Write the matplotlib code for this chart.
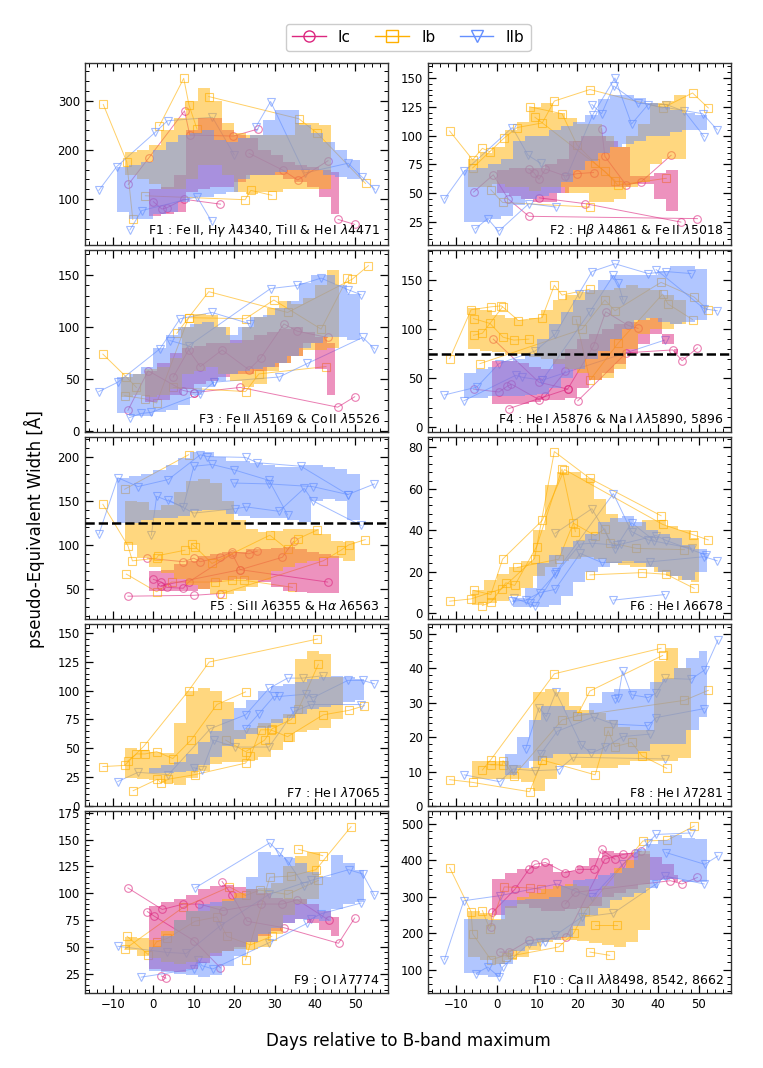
import matplotlib
matplotlib.use("Agg")
import matplotlib.pyplot as plt
from matplotlib.ticker import MultipleLocator, AutoMinorLocator
from matplotlib.lines import Line2D

# SN types, colours and markers
sn_types = ["Ic", "Ib", "IIb"]
colors = {"Ic": "#DC267F", "Ib": "#FFB000", "IIb": "#648FFF"}
markers = {"Ic": "o", "Ib": "s", "IIb": "v"}

# ---------------- F1 ----------------
f1_ic_day = [-1, 2, 5, 8, 11, 14, 17, 20, 23, 26, 29, 32, 35, 38, 41, 44, 46]
f1_ic_lo = [65, 70, 75, 115, 120, 125, 125, 135, 150, 150, 150, 140, 135, 125, 105, 70, 45]
f1_ic_hi = [120, 125, 150, 240, 265, 265, 240, 230, 225, 200, 190, 175, 170, 165, 160, 155, 150]
f1_ib_day = [-7, -4, -1, 2, 5, 8, 11, 14, 17, 20, 23, 26, 29, 32, 35, 38, 41, 44]
f1_ib_lo = [150, 140, 130, 120, 120, 140, 170, 170, 150, 115, 110, 115, 115, 120, 120, 120, 120, 125]
f1_ib_hi = [195, 200, 210, 240, 265, 300, 325, 300, 255, 235, 230, 230, 230, 230, 255, 255, 250, 170]
f1_iib_day = [-9, -6, -3, 0, 3, 6, 9, 12, 15, 18, 21, 24, 27, 30, 33, 36, 39, 42, 45, 48, 51]
f1_iib_lo = [75, 60, 60, 70, 75, 95, 105, 105, 110, 115, 140, 150, 150, 155, 160, 160, 160, 150, 145, 140, 130]
f1_iib_hi = [165, 170, 175, 200, 215, 230, 235, 240, 220, 215, 225, 230, 260, 280, 280, 250, 235, 215, 200, 180, 160]
f1_ic_tracks = [
    [(-6.2, 130), (-1.2, 183), (7.7, 279), (9, 230), (19.8, 228), (25.8, 242)],
    [(0, 95), (2.1, 80), (3.4, 83), (7.5, 100), (16.6, 90)],
    [(23.7, 193), (32, 159), (35.7, 139), (43.2, 178)],
    [(45.7, 59), (49.8, 49)],
]
f1_ib_tracks = [
    [(-12.4, 292), (-6.6, 176), (-5.1, 59)],
    [(1.5, 249), (7.5, 345), (8.8, 291), (10.8, 242)],
    [(13.7, 308), (36, 263), (40.5, 234), (52.5, 132)],
    [(-2, 107), (22.7, 99), (24.1, 118), (29.3, 108)],
]
f1_iib_tracks = [
    [(-13.5, 118), (-9.1, 166), (0.5, 236), (3.5, 259), (14.6, 266), (20, 190)],
    [(-5.8, 38), (-2.9, 77), (10.8, 105), (14.4, 55)],
    [(25.4, 247), (29, 298), (37.4, 153), (48.2, 173), (51.5, 146), (54.8, 120)],
]

# ---------------- F2 ----------------
f2_ic_day = [0, 3, 6, 9, 12, 15, 18, 21, 24, 27, 30, 33, 36, 39, 42, 45]
f2_ic_lo = [50, 48, 45, 42, 42, 50, 55, 55, 55, 55, 55, 58, 58, 45, 35, 25]
f2_ic_hi = [70, 72, 72, 72, 75, 80, 95, 100, 100, 95, 90, 65, 65, 68, 70, 71]
f2_ib_day = [-7, -4, -1, 2, 5, 8, 11, 14, 17, 20, 23, 26, 29, 32, 35, 38, 41, 44, 47]
f2_ib_lo = [55, 55, 58, 55, 55, 52, 55, 55, 50, 50, 42, 42, 45, 55, 60, 75, 80, 80, 80]
f2_ib_hi = [80, 85, 90, 105, 112, 125, 128, 120, 115, 110, 110, 100, 90, 100, 110, 128, 130, 135, 125]
f2_iib_day = [-8, -5, -2, 1, 4, 7, 10, 13, 16, 19, 22, 25, 28, 31, 34, 37, 40, 43, 46, 49, 52]
f2_iib_lo = [25, 25, 28, 30, 40, 45, 48, 50, 60, 70, 78, 85, 90, 93, 95, 100, 100, 103, 105, 105, 108]
f2_iib_hi = [70, 72, 75, 80, 95, 100, 100, 105, 108, 112, 118, 132, 135, 135, 133, 128, 125, 122, 120, 118, 115]
f2_ic_tracks = [
    [(-5.7, 51), (-0.8, 66), (2.9, 45), (8, 30), (49.7, 28)],
    [(8, 71), (9.2, 68), (10.5, 62), (12.1, 71), (17, 65), (19.9, 67), (24, 68)],
    [(26, 106), (26.8, 82), (32.1, 57), (35.8, 60), (43.2, 83)],
    [(10.6, 46), (21.9, 41), (45.6, 25)],
]
f2_ib_tracks = [
    [(-11.6, 104), (-5.9, 79), (-3.5, 89), (-1.7, 86)],
    [(-5.9, 72), (1.9, 98), (5.1, 107), (11.3, 111), (14.3, 130), (23.1, 140), (41.1, 124), (48.5, 137), (52.4, 124)],
    [(8.2, 125), (16.2, 119), (19.9, 92), (24.4, 76), (29.3, 61)],
    [(-1.4, 53), (1.5, 42), (23.1, 38)],
    [(9.5, 116), (26.8, 69), (30, 57), (42, 63)],
]
f2_iib_tracks = [
    [(-12.9, 45), (-8, 69), (3.9, 107), (7.8, 83), (10.9, 76)],
    [(-5.3, 19), (-2.2, 28), (0.5, 17), (8, 41), (14.7, 38)],
    [(17.3, 64), (23.8, 118), (29.3, 150), (33.4, 110), (37.5, 127), (51, 119), (54.6, 105)],
    [(23.6, 127), (26, 119), (29, 143), (35, 128), (42, 127), (46.5, 121), (51.4, 99)],
]

# ---------------- F3 ----------------
f3_ic_day = [-2, 1, 4, 7, 10, 13, 16, 19, 22, 25, 28, 31, 34, 37, 40, 43, 45]
f3_ic_lo = [28, 30, 35, 40, 45, 48, 52, 55, 55, 58, 62, 65, 72, 85, 60, 35, 23]
f3_ic_hi = [58, 65, 75, 80, 82, 85, 85, 88, 88, 92, 95, 98, 100, 95, 90, 85, 78]
f3_ib_day = [-8, -5, -2, 1, 4, 7, 10, 13, 16, 19, 22, 25, 28, 31, 34, 37, 40, 43, 46]
f3_ib_lo = [33, 35, 33, 35, 40, 55, 58, 62, 55, 48, 42, 45, 58, 65, 72, 78, 78, 80, 80]
f3_ib_hi = [52, 55, 60, 62, 70, 100, 113, 112, 100, 85, 100, 110, 118, 125, 122, 128, 140, 155, 155]
f3_iib_day = [-9, -6, -3, 0, 3, 6, 9, 12, 15, 18, 21, 24, 27, 30, 33, 36, 39, 42, 45, 48, 51]
f3_iib_lo = [17, 15, 15, 18, 20, 25, 35, 42, 48, 55, 58, 60, 62, 65, 72, 80, 85, 90, 90, 88, 85]
f3_iib_hi = [52, 55, 62, 80, 92, 100, 103, 105, 100, 92, 100, 110, 112, 118, 125, 142, 150, 150, 140, 132, 128]
f3_ic_tracks = [
    [(-6.3, 20), (-1.3, 58), (7.4, 39), (10, 37)],
    [(4.9, 52), (8.7, 78), (11.6, 62), (17, 78), (23.6, 59), (26.5, 70), (32.3, 103), (35.6, 96), (43.1, 90)],
    [(10, 37), (21.5, 42), (45.6, 23), (49.8, 33)],
]
f3_ib_tracks = [
    [(-12.5, 74), (-6.7, 52), (-4.2, 42)],
    [(-7.1, 34), (-2.1, 31), (0.8, 27), (8.7, 109), (13.7, 134), (33.2, 114), (49.2, 146), (53.2, 159)],
    [(5.8, 94), (8.7, 109), (22.8, 108), (29.8, 126), (41.5, 98), (48, 147)],
    [(4.9, 42), (22.8, 38), (26.1, 55), (42.7, 62)],
]
f3_iib_tracks = [
    [(-13.5, 38), (-8.8, 47), (1.6, 79), (6.6, 108), (14.5, 114), (24, 103)],
    [(-5.9, 13), (-3, 17), (-0.5, 18), (11.6, 36), (14.9, 47)],
    [(4.1, 87), (8.7, 82), (29, 137), (35.6, 140), (41.5, 147), (48.1, 136), (51.4, 131)],
    [(14.9, 47), (31.1, 52), (38.1, 65), (51.8, 90), (54.7, 79)],
]

# ---------------- F4 ----------------
f4_ic_day = [-1, 2, 5, 8, 11, 14, 17, 20, 23, 26, 29, 32, 35, 38, 41, 44, 45]
f4_ic_lo = [24, 24, 24, 26, 28, 28, 30, 40, 48, 55, 65, 75, 85, 95, 85, 75, 72]
f4_ic_hi = [68, 68, 66, 62, 60, 70, 80, 90, 95, 100, 105, 108, 110, 112, 95, 80, 78]
f4_ib_day = [-7, -4, -1, 2, 5, 8, 11, 14, 17, 20, 23, 26, 29, 32, 35, 38, 41, 44, 47]
f4_ib_lo = [80, 78, 77, 75, 75, 72, 70, 65, 60, 55, 48, 50, 60, 80, 95, 100, 100, 105, 105]
f4_ib_hi = [122, 120, 115, 112, 110, 112, 120, 130, 135, 138, 140, 140, 142, 145, 142, 140, 135, 130, 128]
f4_iib_day = [-8, -5, -2, 1, 4, 7, 10, 13, 16, 19, 22, 25, 28, 31, 34, 37, 40, 43, 46, 49, 52]
f4_iib_lo = [30, 30, 32, 32, 32, 33, 34, 40, 50, 60, 70, 78, 90, 100, 110, 112, 108, 105, 108, 110, 115]
f4_iib_hi = [55, 60, 62, 68, 70, 75, 90, 105, 118, 130, 140, 150, 155, 155, 155, 155, 160, 165, 165, 162, 155]
f4_ic_tracks = [
    [(-5.7, 39), (0.6, 36), (2.7, 42), (3.7, 44), (10.6, 28), (12.1, 32), (17, 57)],
    [(-0.8, 90), (10.5, 46), (17.6, 39), (24, 83), (27, 118), (32.6, 104), (35, 101)],
    [(20.1, 27), (32.1, 76), (43.6, 79), (45.9, 68), (49.7, 81)],
    [(3, 19), (17.6, 39)],
]
f4_ib_tracks = [
    [(-11.6, 70), (-6.3, 120), (-1.4, 123), (1.2, 124), (5.4, 109), (11.3, 112), (14.3, 145), (16.2, 135), (23.1, 141)],
    [(-5.7, 111), (-1.6, 106), (1.6, 92), (4.3, 89), (8, 90)],
    [(-5.7, 94), (-3.5, 96), (1.5, 123)],
    [(-4.1, 65), (21.1, 100), (26.8, 130), (29.3, 119), (40.7, 148), (48.9, 133), (52.2, 120)],
    [(19.7, 110), (23.1, 48), (30.1, 86), (41.1, 136), (42.4, 126), (48.5, 110)],
]
f4_iib_tracks = [
    [(-12.9, 33), (-4.9, 41), (0.6, 65), (9.6, 78), (14.5, 95), (20.3, 136), (23.6, 159), (29.3, 167), (37.5, 157), (42, 159), (48.1, 157)],
    [(-8.1, 27), (4.7, 53), (6.4, 51), (11.3, 48), (23.1, 118), (28.9, 155), (30.1, 147), (31.3, 130)],
    [(39.5, 161), (51.4, 121), (54.6, 119)],
    [(11.3, 48), (41.6, 89)],
]

# ---------------- F5 ----------------
f5_ic_day = [-1, 2, 5, 8, 11, 14, 17, 20, 23, 26, 29, 32, 35, 38, 41, 44, 46]
f5_ic_lo = [48, 48, 48, 48, 50, 58, 60, 62, 60, 58, 52, 48, 47, 46, 46, 46, 46]
f5_ic_hi = [70, 72, 78, 82, 88, 90, 92, 92, 95, 95, 97, 98, 95, 92, 90, 88, 88]
f5_ib_day = [-7, -4, -1, 2, 5, 8, 11, 14, 17, 20, 23, 26, 29, 32, 35, 38, 41, 44, 47, 50]
f5_ib_lo = [100, 85, 75, 68, 62, 55, 50, 45, 45, 48, 52, 60, 70, 75, 80, 82, 85, 85, 82, 80]
f5_ib_hi = [150, 148, 140, 145, 160, 172, 175, 170, 150, 128, 118, 115, 116, 118, 118, 118, 112, 105, 103, 100]
f5_iib_day = [-9, -6, -3, 0, 3, 6, 9, 12, 15, 18, 21, 24, 27, 30, 33, 36, 39, 42, 45, 48, 51]
f5_iib_lo = [125, 125, 128, 130, 130, 133, 138, 140, 140, 135, 133, 130, 130, 130, 128, 126, 150, 152, 150, 128, 128]
f5_iib_hi = [176, 178, 180, 185, 190, 198, 205, 205, 200, 195, 195, 193, 190, 188, 188, 190, 190, 188, 186, 180, 172]
f5_ic_tracks = [
    [(-6.3, 42), (10, 43), (16.5, 45)],
    [(-1.5, 85), (7.4, 81), (10, 85), (11.6, 81), (16.5, 86), (19.5, 92), (23.6, 90), (25.7, 93)],
    [(0, 61), (2, 58), (3.3, 52), (7.4, 51), (8.7, 58), (19.5, 90), (21.5, 72), (31.9, 86), (34.7, 104)],
    [(2, 54), (21.5, 72), (43.1, 58)],
]
f5_ib_tracks = [
    [(-12.5, 146), (-6.3, 99), (-5.2, 82), (0.8, 85), (1.2, 88), (7.8, 94)],
    [(-7.1, 163), (8.7, 202)],
    [(-6.7, 67), (0.8, 47), (4.5, 58), (15.3, 58), (19.5, 60), (22.4, 60), (34.4, 52)],
    [(9.5, 101), (10.3, 98), (14.5, 79), (28.8, 111), (33.2, 95), (35.8, 107), (40.6, 117)],
    [(17, 45), (42, 82), (46.4, 94), (48.3, 100), (52.4, 106)],
]
f5_iib_tracks = [
    [(-13.5, 112), (-8.8, 176), (-3.8, 166), (3.7, 174), (11.6, 202), (13.3, 200), (22.8, 199), (25.7, 193), (36.5, 189), (48.1, 157), (54.7, 169)],
    [(-0.5, 111), (0.8, 155), (7.4, 143), (10, 189), (14.5, 191), (19.9, 185), (28.6, 173), (33.2, 134)],
    [(3.7, 151), (10, 136), (20.3, 141), (23, 143), (31.1, 138), (37.3, 164), (39.4, 150), (51.4, 122)],
    [(19.9, 170), (28.6, 169), (39.4, 166), (48.1, 157)],
]

# ---------------- F6 ----------------
f6_ib_day = [-6, -3, 0, 3, 6, 9, 12, 15, 18, 21, 24, 27, 30, 33, 36, 39, 42, 45, 48, 50]
f6_ib_lo = [4, 5, 6, 8, 12, 18, 22, 25, 26, 27, 26, 24, 23, 22, 22, 20, 18, 16, 15, 20]
f6_ib_hi = [11, 16, 19, 22, 25, 40, 62, 68, 68, 65, 55, 48, 44, 42, 45, 45, 42, 40, 36, 39]
f6_iib_day = [4, 7, 10, 13, 16, 19, 22, 25, 28, 31, 34, 37, 40, 43, 46, 49, 52]
f6_iib_lo = [3, 3, 3, 4, 8, 15, 20, 22, 24, 25, 24, 22, 20, 18, 16, 20, 25]
f6_iib_hi = [7, 12, 24, 28, 32, 35, 38, 44, 46, 47, 44, 40, 38, 36, 33, 31, 29]
f6_ib_tracks = [
    [(-11.6, 5.7), (-6.3, 6.8), (1.3, 11.7), (9.4, 26.3), (14.3, 78), (23.1, 65), (40.7, 47)],
    [(-5.7, 10.9), (-1.4, 8.9), (1.5, 26), (11.3, 44.7), (16.8, 69.3), (41.1, 42.8), (48.5, 37.9), (52.4, 35.3)],
    [(-3.5, 3.6), (-1.4, 5.2), (2.3, 14.6), (4.5, 13.3), (9.9, 32), (16.2, 69.6), (19.5, 39.3)],
    [(5.1, 22), (15.4, 26), (19, 43.4), (24.4, 37.4), (26.8, 40.7), (28, 34), (34.6, 31.2), (46.5, 30.6)],
    [(23.1, 18.4), (36, 19.5), (42, 18.7), (48.9, 11.9)],
]
f6_iib_tracks = [
    [(4.3, 7.3), (9.6, 3.3), (14.7, 19.8), (28.9, 57.7), (33.4, 39.3), (37.5, 35.3), (48.3, 31.2)],
    [(3.9, 5.7), (7.2, 6.2), (10.7, 9.8), (14.5, 11.4), (20.7, 28.8), (26, 24.4), (37.9, 24.7), (51.4, 27.2), (54.6, 25.2)],
    [(8.2, 4.9), (14.5, 18.7), (20.7, 33.3), (23.6, 33.7), (29.7, 32.8), (30.9, 33.3), (39.5, 37.4), (42, 35), (51.8, 28)],
    [(14.5, 38.5), (23.6, 50.4), (29.3, 30.9), (33.4, 43.6), (39, 35)],
    [(28.9, 6.2), (41.6, 8.9)],
]

# ---------------- F7 ----------------
f7_ib_day = [-7, -4, -1, 2, 5, 8, 11, 14, 17, 20, 23, 26, 29, 32, 35, 38, 41, 44, 47]
f7_ib_lo = [24, 23, 22, 20, 18, 24, 30, 36, 38, 38, 40, 42, 48, 55, 64, 66, 68, 75, 80]
f7_ib_hi = [50, 48, 47, 46, 72, 100, 102, 100, 90, 66, 68, 72, 75, 80, 128, 135, 132, 112, 90]
f7_iib_day = [-1, 2, 5, 8, 11, 14, 17, 20, 23, 26, 29, 32, 35, 38, 41, 44, 47, 50, 52]
f7_iib_lo = [28, 28, 29, 30, 35, 42, 52, 58, 62, 68, 72, 76, 80, 84, 86, 88, 90, 92, 93]
f7_iib_hi = [33, 35, 38, 45, 55, 65, 75, 85, 92, 100, 104, 106, 108, 110, 112, 113, 112, 110, 110]
f7_ib_tracks = [
    [(-12.5, 34), (-7.1, 35), (-2.3, 52), (8.7, 100), (13.8, 125), (40.6, 145)],
    [(-6.3, 39), (-4.2, 45), (-2.1, 45), (0.8, 47), (4.8, 41), (9.3, 57), (15.7, 88), (22.8, 99)],
    [(-5, 13), (1, 23), (1.8, 20), (3.7, 23), (10.3, 27), (22.8, 37), (24, 43), (26.5, 66), (29, 66), (33.2, 60), (42, 79), (48.5, 83), (52.2, 87)],
    [(17.9, 57), (22.8, 47), (27.5, 57), (29.4, 67), (34.1, 75), (35.9, 84), (40.8, 123)],
]
f7_iib_tracks = [
    [(-8.8, 21), (-3.8, 29), (3.7, 27), (14.1, 67), (22.8, 79), (28.6, 102), (33.2, 111), (36.9, 111), (41.9, 113)],
    [(10, 33), (12.1, 31), (14.9, 57), (20.3, 51), (28.6, 51), (34.8, 82), (39, 88), (51.4, 88)],
    [(22.8, 67), (26.1, 80), (29.8, 95), (31.1, 95), (37.7, 97), (39.5, 94), (48.1, 109), (51.8, 109), (54.7, 106)],
]

# ---------------- F8 ----------------
f8_ib_day = [-6, -3, 0, 3, 6, 9, 12, 15, 18, 21, 24, 27, 30, 33, 36, 39, 42, 45, 48]
f8_ib_lo = [8, 8, 8, 8, 7, 4.5, 8, 12, 12, 11, 11, 11, 12, 13, 13, 13, 13, 14, 20]
f8_ib_hi = [13, 13, 13, 12, 11, 33, 34, 33, 29, 28, 27, 25, 23, 22, 22, 42, 46, 40, 32]
f8_iib_day = [2, 5, 8, 11, 14, 17, 20, 23, 26, 29, 32, 35, 38, 41, 44, 47, 50, 52]
f8_iib_lo = [9, 11, 13, 14, 15, 15, 15, 15, 15, 15, 15, 16, 18, 18, 18, 22, 26, 28]
f8_iib_hi = [15, 20, 25, 29, 29, 28, 27, 30, 33, 34, 34, 34, 36, 37, 40, 43, 45, 42]
f8_ib_tracks = [
    [(-11.6, 7.7), (-5.9, 6.9), (8.2, 4.2), (11.3, 13.4)],
    [(-3.5, 10.5), (-1.4, 13.5), (14.3, 38.4), (40.7, 45.8)],
    [(-1.4, 12), (1.5, 12), (1.6, 13.2), (4.3, 8.9), (16.2, 25), (19.9, 26.2), (23.1, 33.4), (41.1, 43.7)],
    [(11.3, 13.4), (24.4, 9.1), (27.6, 21.9), (29.3, 17.3), (33.4, 18.5), (36, 14.6), (42.1, 11)],
    [(19.9, 26.2), (46.5, 30.7), (52.4, 33.6)],
]
f8_iib_tracks = [
    [(-8, 9.1), (0.8, 7.1), (4.1, 10.8), (9.6, 10.3), (15.4, 10.6), (19, 14.2), (41.6, 13.7)],
    [(7.2, 16.6), (10.5, 28.6), (12.3, 26), (14.7, 33.1), (21, 17.7), (23.4, 15.4), (26.8, 17.1), (31.3, 20.2), (37.9, 20.9)],
    [(10.9, 15.1), (15, 21.7), (24, 25.9), (28.9, 23.8), (37.5, 23.3), (39.5, 25.7), (51.4, 28.3)],
    [(29.3, 31.2), (30.1, 31.5), (31.2, 39.2), (33.4, 32.3), (37.5, 31.5), (39.5, 32.8), (41.8, 37.1), (48.1, 36.8), (51.5, 39.5), (54.8, 48.2)],
]

# ---------------- F9 ----------------
f9_ic_day = [-1, 2, 5, 8, 11, 14, 17, 20, 23, 26, 29, 32, 35, 38, 41, 44, 46]
f9_ic_lo = [30, 28, 27, 30, 35, 42, 46, 50, 55, 60, 65, 72, 76, 72, 66, 60, 58]
f9_ic_hi = [88, 92, 95, 98, 104, 107, 108, 106, 104, 100, 96, 95, 95, 90, 84, 78, 75]
f9_ib_day = [-7, -4, -1, 2, 5, 8, 11, 14, 17, 20, 23, 26, 29, 32, 35, 38, 41]
f9_ib_lo = [47, 42, 40, 36, 34, 36, 40, 44, 46, 48, 48, 50, 62, 80, 90, 95, 100]
f9_ib_hi = [59, 58, 57, 65, 75, 84, 84, 88, 95, 100, 104, 105, 110, 125, 135, 138, 133]
f9_iib_day = [-1, 2, 5, 8, 11, 14, 17, 20, 23, 26, 29, 32, 35, 38, 41, 44, 47, 50, 52]
f9_iib_lo = [28, 27, 25, 24, 22, 24, 32, 42, 55, 62, 68, 72, 76, 76, 74, 85, 90, 92, 93]
f9_iib_hi = [50, 60, 75, 84, 90, 92, 93, 96, 115, 138, 136, 133, 128, 120, 115, 136, 128, 122, 118]
f9_ic_tracks = [
    [(-6.3, 105), (2.2, 85), (7.4, 90), (11.4, 90), (17.2, 84), (26.5, 90), (31.9, 90), (35.6, 94), (43.4, 75)],
    [(-1.5, 83), (0.1, 79), (10, 56), (16.6, 30.6)],
    [(2, 23), (3.1, 21)],
    [(17, 111), (19.5, 98), (23.2, 74), (32.3, 68), (45.8, 53.5), (49.8, 77)],
]
f9_ib_tracks = [
    [(-6.5, 60), (-1.3, 43), (0.8, 55), (3.4, 58), (10.3, 74), (15.7, 78), (18.2, 60), (24, 52), (29.3, 60)],
    [(-7.1, 48), (7.4, 87), (18.8, 106), (22.8, 98), (26.3, 103), (33.2, 99), (40.8, 112)],
    [(22.8, 38), (28.8, 115), (34, 116), (40.2, 122), (48.9, 162)],
    [(35.9, 141), (41.9, 135)],
]
f9_iib_tracks = [
    [(-8.8, 50.7), (3.4, 45), (8.1, 44), (16.6, 70), (28.6, 99), (39, 112), (48.3, 122), (51.8, 118), (54.7, 98)],
    [(-3, 22), (10, 29.6), (11, 38), (12, 32.7), (14.7, 29.6), (28.6, 54), (38, 72), (39, 76), (41.5, 81), (51.4, 91)],
    [(10.3, 105), (28.8, 147), (31.1, 138), (33.2, 130), (37.3, 107)],
]

# ---------------- F10 ----------------
f10_ic_day = [-1, 2, 5, 8, 11, 14, 17, 20, 23, 26, 29, 32, 35, 38, 41, 44, 45]
f10_ic_lo = [250, 270, 280, 270, 262, 262, 265, 270, 275, 300, 310, 320, 335, 345, 350, 340, 335]
f10_ic_hi = [350, 365, 375, 385, 390, 368, 370, 385, 405, 425, 420, 420, 418, 410, 390, 360, 350]
f10_ib_day = [-7, -4, -1, 2, 5, 8, 11, 14, 17, 20, 23, 26, 29, 32, 35, 38]
f10_ib_lo = [135, 125, 115, 125, 135, 155, 175, 180, 180, 178, 172, 168, 162, 175, 210, 240]
f10_ib_hi = [262, 255, 240, 275, 300, 310, 320, 330, 335, 330, 300, 330, 380, 400, 425, 430]
f10_iib_day = [-8, -5, -2, 1, 4, 7, 10, 13, 16, 19, 22, 25, 28, 31, 34, 37, 40, 43, 46, 49, 52]
f10_iib_lo = [90, 85, 80, 115, 150, 165, 175, 180, 190, 220, 250, 270, 290, 300, 310, 325, 345, 350, 340, 340, 345]
f10_iib_hi = [240, 238, 235, 290, 290, 295, 295, 300, 330, 345, 350, 360, 365, 380, 430, 445, 455, 470, 460, 458, 455]
f10_ic_tracks = [
    [(-1.4, 218), (-1, 257), (4.6, 321), (8, 375), (9.5, 389), (12.1, 394), (17, 366), (20.3, 375), (24, 375), (26, 430), (29.3, 403)],
    [(0.8, 148), (3.1, 148), (8, 180), (17.2, 189), (26.8, 403), (31.3, 416), (34.2, 421), (35.8, 425)],
    [(17, 280), (19.5, 312), (43, 344), (45.9, 335), (49.7, 353)],
]
f10_ib_tracks = [
    [(-11.6, 380), (-6.3, 259), (-5.9, 198), (-1.4, 127), (3.9, 144)],
    [(-3.5, 262), (-1.7, 212), (1.9, 327), (8.4, 324), (10.9, 321)],
    [(2.3, 135), (15.4, 162), (19.1, 200), (22, 262), (36.2, 453), (42.2, 455), (48.9, 494)],
    [(23.1, 148), (28, 139)],
    [(24.4, 221), (29.7, 221)],
]
f10_iib_tracks = [
    [(-12.9, 127), (-8.1, 289), (0.9, 303), (15, 335), (23.6, 298), (31.2, 389), (37.5, 448), (39.5, 471), (48.1, 475)],
    [(-5.1, 89), (-2.2, 107), (0.6, 80), (1.5, 107), (8, 171), (10.7, 175), (12.1, 177), (14.5, 194), (21.1, 244), (28.9, 255), (39.5, 335), (41.7, 357), (51.4, 335)],
    [(42, 421), (51.5, 389), (54.8, 412)],
]

labels = [
    r"F1 : Fe$\,$II, H$\gamma$ $\lambda$4340, Ti$\,$II & He$\,$I $\lambda$4471",
    r"F2 : H$\beta$ $\lambda$4861 & Fe$\,$II $\lambda$5018",
    r"F3 : Fe$\,$II $\lambda$5169 & Co$\,$II $\lambda$5526",
    r"F4 : He$\,$I $\lambda$5876 & Na$\,$I $\lambda\lambda$5890, 5896",
    r"F5 : Si$\,$II $\lambda$6355 & H$\alpha$ $\lambda$6563",
    r"F6 : He$\,$I $\lambda$6678",
    r"F7 : He$\,$I $\lambda$7065",
    r"F8 : He$\,$I $\lambda$7281",
    r"F9 : O$\,$I $\lambda$7774",
    r"F10 : Ca$\,$II $\lambda\lambda$8498, 8542, 8662",
]

bands = [
    {"Ic": (f1_ic_day, f1_ic_lo, f1_ic_hi), "Ib": (f1_ib_day, f1_ib_lo, f1_ib_hi), "IIb": (f1_iib_day, f1_iib_lo, f1_iib_hi)},
    {"Ic": (f2_ic_day, f2_ic_lo, f2_ic_hi), "Ib": (f2_ib_day, f2_ib_lo, f2_ib_hi), "IIb": (f2_iib_day, f2_iib_lo, f2_iib_hi)},
    {"Ic": (f3_ic_day, f3_ic_lo, f3_ic_hi), "Ib": (f3_ib_day, f3_ib_lo, f3_ib_hi), "IIb": (f3_iib_day, f3_iib_lo, f3_iib_hi)},
    {"Ic": (f4_ic_day, f4_ic_lo, f4_ic_hi), "Ib": (f4_ib_day, f4_ib_lo, f4_ib_hi), "IIb": (f4_iib_day, f4_iib_lo, f4_iib_hi)},
    {"Ic": (f5_ic_day, f5_ic_lo, f5_ic_hi), "Ib": (f5_ib_day, f5_ib_lo, f5_ib_hi), "IIb": (f5_iib_day, f5_iib_lo, f5_iib_hi)},
    {"Ib": (f6_ib_day, f6_ib_lo, f6_ib_hi), "IIb": (f6_iib_day, f6_iib_lo, f6_iib_hi)},
    {"Ib": (f7_ib_day, f7_ib_lo, f7_ib_hi), "IIb": (f7_iib_day, f7_iib_lo, f7_iib_hi)},
    {"Ib": (f8_ib_day, f8_ib_lo, f8_ib_hi), "IIb": (f8_iib_day, f8_iib_lo, f8_iib_hi)},
    {"Ic": (f9_ic_day, f9_ic_lo, f9_ic_hi), "Ib": (f9_ib_day, f9_ib_lo, f9_ib_hi), "IIb": (f9_iib_day, f9_iib_lo, f9_iib_hi)},
    {"Ic": (f10_ic_day, f10_ic_lo, f10_ic_hi), "Ib": (f10_ib_day, f10_ib_lo, f10_ib_hi), "IIb": (f10_iib_day, f10_iib_lo, f10_iib_hi)},
]
tracks = [
    {"Ic": f1_ic_tracks, "Ib": f1_ib_tracks, "IIb": f1_iib_tracks},
    {"Ic": f2_ic_tracks, "Ib": f2_ib_tracks, "IIb": f2_iib_tracks},
    {"Ic": f3_ic_tracks, "Ib": f3_ib_tracks, "IIb": f3_iib_tracks},
    {"Ic": f4_ic_tracks, "Ib": f4_ib_tracks, "IIb": f4_iib_tracks},
    {"Ic": f5_ic_tracks, "Ib": f5_ib_tracks, "IIb": f5_iib_tracks},
    {"Ib": f6_ib_tracks, "IIb": f6_iib_tracks},
    {"Ib": f7_ib_tracks, "IIb": f7_iib_tracks},
    {"Ib": f8_ib_tracks, "IIb": f8_iib_tracks},
    {"Ic": f9_ic_tracks, "Ib": f9_ib_tracks, "IIb": f9_iib_tracks},
    {"Ic": f10_ic_tracks, "Ib": f10_ib_tracks, "IIb": f10_iib_tracks},
]
# dashed reference levels (F4, F5)
ref_levels = {3: 75, 4: 125}

# axis settings per panel
ylims = [(7, 376), (5, 163), (-1, 174), (-5, 181), (16, 222),
         (-3, 85), (-0.5, 158), (0, 52.8), (7, 176.5), (35, 535)]
ysteps = [100, 25, 50, 50, 50, 20, 25, 10, 25, 100]

fig, axes = plt.subplots(5, 2, figsize=(7.63, 10.68), dpi=100, sharex=True)
fig.subplots_adjust(left=0.111, right=0.958, top=0.941, bottom=0.070,
                    hspace=0.027, wspace=0.132)

for i, ax in enumerate(axes.flat):
    # individual SNe
    for t in sn_types:
        for tr in tracks[i].get(t, []):
            d = [p[0] for p in tr]
            v = [p[1] for p in tr]
            ax.plot(d, v, color=colors[t], lw=0.7, alpha=0.6, marker=markers[t],
                    mfc="none", ms=5.5, mew=0.8, zorder=1)
    # mean +- std bands
    for t in sn_types:
        if t in bands[i]:
            d, lo, hi = bands[i][t]
            ax.fill_between(d, lo, hi, step="post", color=colors[t], alpha=0.5,
                            lw=0, zorder=2)
    if i in ref_levels:
        ax.axhline(ref_levels[i], color="k", ls="--", lw=1.8, zorder=3)

    ax.set_xlim(-17, 58)
    ax.set_ylim(*ylims[i])
    ax.xaxis.set_major_locator(MultipleLocator(10))
    ax.xaxis.set_minor_locator(AutoMinorLocator(5))
    ax.yaxis.set_major_locator(MultipleLocator(ysteps[i]))
    ax.yaxis.set_minor_locator(AutoMinorLocator(5))
    ax.tick_params(which="both", direction="in", top=True, right=True, labelsize=8.5)
    ax.tick_params(which="major", length=5.5, width=0.9)
    ax.tick_params(which="minor", length=3, width=0.7)
    for sp in ax.spines.values():
        sp.set_linewidth(1.0)
        sp.set_color("#333333")
    ax.text(0.975, 0.035, labels[i], transform=ax.transAxes, ha="right", va="bottom",
            fontsize=9, zorder=5)

handles = [Line2D([], [], color=colors[t], marker=markers[t], mfc="none", ms=8, lw=1)
           for t in sn_types]
fig.legend(handles, sn_types, loc="upper center", bbox_to_anchor=(0.535, 0.985),
           ncol=3, fontsize=11, handlelength=2.2, columnspacing=1.6, framealpha=1)

fig.text(0.535, 0.025, "Days relative to B-band maximum", ha="center", va="center", fontsize=12)
fig.text(0.045, 0.505, "pseudo-Equivalent Width [Å]", ha="center", va="center",
         rotation=90, fontsize=12)

fig.savefig("out.png", dpi=100)
